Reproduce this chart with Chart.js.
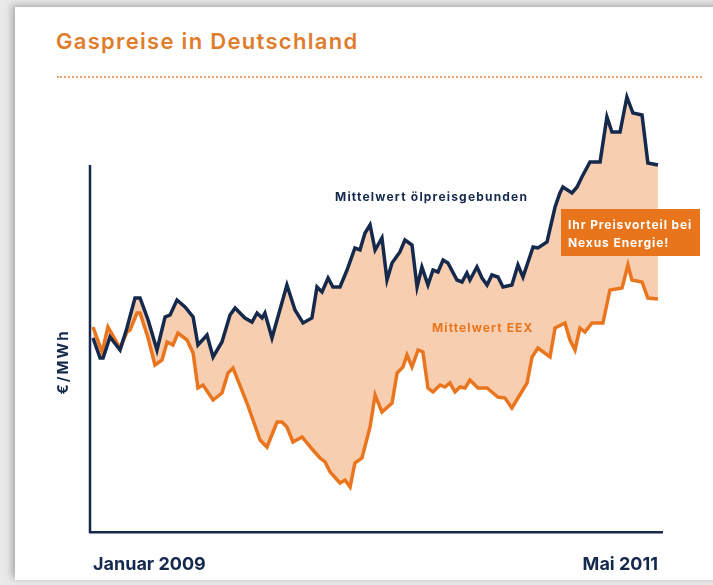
<!DOCTYPE html>
<html>
<head>
<meta charset="utf-8">
<script src="https://cdn.jsdelivr.net/npm/chart.js@4"></script>
<style>
    html, body { margin: 0; padding: 0; }
    body { width: 713px; height: 585px; background: #e9e9e9; position: relative; overflow: hidden; font-family: Inter, "Open Sans", sans-serif; }
    .card { position: absolute; left: 15px; top: 7px; width: 720px; height: 573px; background: #fefefe; box-shadow: -3px -2px 7px rgba(0,0,0,0.28); }
    h1 { position: absolute; left: 56px; top: 28px; margin: 0; font-size: 22px; font-weight: 600; letter-spacing: 1.3px; color: #e07d2c; }
    .dots { position: absolute; left: 57px; top: 76px; width: 645px; border-top: 2px dotted #eea064; }
    canvas { position: absolute; left: 0; top: 0; }
</style>
</head>
<body>
<div class="card"></div>
<h1>Gaspreise in Deutschland</h1>
<div class="dots"></div>
<canvas id="gasChart" width="713" height="585"></canvas>
<script>
// Monate seit Januar 2009 und Preise (€/MWh, geschätzt)
const oilMonths = [0, 0.35, 0.50, 0.84, 1.34, 1.68, 2.08, 2.33, 2.73, 3.17, 3.57, 3.82, 4.16, 4.56, 4.96, 5.20, 5.65, 5.95, 6.39, 6.79, 7.04, 7.53, 7.88, 8.13, 8.38, 8.52, 8.87, 9.12, 9.61, 10.01, 10.41, 10.85, 11.10, 11.35, 11.65, 11.89, 12.24, 12.59, 12.98, 13.23, 13.48, 13.73, 13.98, 14.32, 14.57, 14.82, 15.21, 15.46, 15.81, 16.06, 16.30, 16.60, 16.85, 17.10, 17.35, 17.59, 18.04, 18.29, 18.53, 18.68, 19.03, 19.28, 19.53, 19.77, 20.07, 20.32, 20.76, 21.06, 21.31, 21.81, 22.05, 22.50, 22.90, 23.14, 23.29, 23.74, 23.99, 24.23, 24.63, 25.13, 25.47, 25.72, 26.12, 26.46, 26.76, 27.21, 27.50, 28.00];
const oilPrices = [19.4, 17.4, 17.4, 19.5, 18.2, 20.4, 23.4, 23.4, 21.2, 18.2, 21.5, 21.7, 23.2, 22.5, 21.5, 18.7, 19.7, 17.5, 19.0, 21.7, 22.4, 21.4, 21.0, 21.9, 21.4, 21.9, 19.4, 21.2, 24.7, 22.2, 20.9, 21.4, 24.5, 24.0, 25.4, 24.5, 24.5, 26.2, 28.4, 28.2, 29.9, 30.7, 28.2, 29.4, 25.2, 26.9, 28.0, 29.2, 28.7, 24.5, 26.5, 24.7, 26.2, 26.0, 27.2, 26.9, 25.2, 25.0, 25.9, 25.2, 26.5, 25.4, 24.7, 25.7, 25.5, 24.5, 24.7, 26.7, 25.5, 28.5, 28.4, 29.0, 32.5, 33.9, 34.5, 33.9, 34.5, 35.5, 37.0, 37.0, 41.5, 40.0, 40.0, 43.5, 41.9, 41.7, 36.9, 36.7];

const eexMonths = [0, 0.45, 0.74, 1.34, 1.68, 1.83, 2.18, 2.33, 2.73, 3.07, 3.42, 3.67, 3.96, 4.21, 4.66, 4.96, 5.20, 5.45, 5.95, 6.39, 6.69, 6.94, 7.63, 8.28, 8.62, 9.12, 9.37, 9.61, 9.91, 10.36, 10.90, 11.25, 11.50, 11.75, 12.24, 12.49, 12.74, 12.98, 13.33, 13.73, 13.98, 14.32, 14.82, 15.07, 15.36, 15.56, 15.81, 16.11, 16.35, 16.60, 16.85, 17.20, 17.44, 17.69, 17.94, 18.19, 18.44, 18.68, 19.08, 19.53, 19.82, 20.07, 20.42, 20.76, 21.06, 21.51, 21.76, 22.05, 22.65, 22.90, 23.39, 23.64, 23.89, 24.13, 24.38, 24.73, 25.27, 25.62, 26.22, 26.51, 26.71, 27.21, 27.50, 28.00];
const eexPrices = [20.5, 18.0, 20.5, 18.4, 20.0, 20.2, 21.9, 21.9, 19.4, 16.7, 17.2, 19.0, 18.7, 19.9, 19.2, 17.9, 14.4, 14.7, 13.2, 13.9, 15.9, 16.4, 12.9, 9.2, 8.5, 11.0, 11.0, 10.5, 9.0, 9.5, 8.2, 7.4, 7.0, 6.0, 4.9, 5.2, 4.5, 6.9, 7.4, 10.5, 13.7, 12.0, 12.9, 15.9, 16.5, 17.7, 16.5, 18.2, 18.0, 14.4, 14.0, 14.7, 14.5, 14.9, 14.0, 14.5, 14.4, 15.2, 14.4, 14.4, 13.9, 13.5, 13.4, 12.4, 13.4, 14.9, 17.5, 18.4, 17.5, 20.4, 20.9, 19.2, 18.2, 20.4, 20.0, 20.9, 20.9, 24.2, 24.4, 26.7, 25.2, 25.0, 23.4, 23.3];

const xTickValues = [0, 28];
const xTickLabels = ['Januar 2009', 'Mai 2011'];
const seriesLabels = ['Mittelwert ölpreisgebunden', 'Mittelwert EEX'];
const calloutLines = ['Ihr Preisvorteil bei', 'Nexus Energie!'];
const yAxisTop = 36.7;

const NAVY = '#14294c';
const ORANGE = '#e9761f';
const FILL = '#f7cfb0';
const FONT = 'Inter, "Open Sans", sans-serif';

function toPoints(xs, ys) {
    return xs.map((x, i) => ({ x: x, y: ys[i] }));
}

const labelsPlugin = {
    id: 'gasLabels',
    afterDraw(chart) {
        const ctx = chart.ctx;
        const area = chart.chartArea;
        const y = chart.scales.y;

        ctx.save();
        // kurze Y-Achse
        ctx.strokeStyle = NAVY;
        ctx.lineWidth = 2.5;
        ctx.beginPath();
        ctx.moveTo(area.left, y.getPixelForValue(yAxisTop));
        ctx.lineTo(area.left, area.bottom + 1);
        ctx.stroke();

        ctx.textBaseline = 'middle';
        ctx.textAlign = 'left';
        ctx.font = '700 12px ' + FONT;
        ctx.letterSpacing = '1.2px';
        ctx.fillStyle = NAVY;
        ctx.fillText(seriesLabels[0], 335, 197);
        ctx.letterSpacing = '1.1px';
        ctx.fillStyle = ORANGE;
        ctx.fillText(seriesLabels[1], 432, 328);

        // Hinweisbox
        ctx.fillStyle = '#e8741c';
        ctx.fillRect(561, 209, 139, 47);
        ctx.letterSpacing = '0.9px';
        ctx.fillStyle = '#ffffff';
        ctx.fillText(calloutLines[0], 568, 225);
        ctx.fillText(calloutLines[1], 568, 243);

        // Achsentitel
        ctx.translate(63, 362);
        ctx.rotate(-Math.PI / 2);
        ctx.textAlign = 'center';
        ctx.letterSpacing = '2px';
        ctx.font = '700 15px ' + FONT;
        ctx.fillStyle = NAVY;
        ctx.fillText('€/MWh', 0, 0);
        ctx.restore();
    }
};

const chart = new Chart(document.getElementById('gasChart').getContext('2d'), {
    type: 'line',
    data: {
        datasets: [{
            label: seriesLabels[0],
            data: toPoints(oilMonths, oilPrices),
            borderColor: NAVY,
            borderWidth: 3.5,
            pointRadius: 0,
            tension: 0,
            fill: { target: 1, above: FILL, below: FILL }
        }, {
            label: seriesLabels[1],
            data: toPoints(eexMonths, eexPrices),
            borderColor: ORANGE,
            borderWidth: 3.5,
            pointRadius: 0,
            tension: 0,
            fill: false
        }]
    },
    options: {
        responsive: false,
        animation: false,
        devicePixelRatio: 1,
        layout: { padding: { left: 90, right: 51, top: 85, bottom: 0 } },
        scales: {
            x: {
                type: 'linear',
                min: -0.15,
                max: 28.2,
                grid: { display: false, drawTicks: false },
                border: { display: true, color: NAVY, width: 2.5 },
                afterBuildTicks: scale => {
                    scale.ticks = xTickValues.map(v => ({ value: v }));
                },
                afterFit: scale => {
                    scale.height = 53;
                },
                ticks: {
                    align: 'inner',
                    autoSkip: false,
                    maxRotation: 0,
                    padding: 24,
                    color: NAVY,
                    font: { family: FONT, size: 18, weight: 700, lineHeight: 1 },
                    callback: (value, index) => xTickLabels[index]
                }
            },
            y: {
                type: 'linear',
                display: false,
                min: 0,
                max: 44.7
            }
        },
        plugins: {
            legend: { display: false },
            tooltip: { enabled: false },
            filler: { drawTime: 'beforeDatasetsDraw' }
        }
    },
    plugins: [labelsPlugin]
});
</script>
</body>
</html>
